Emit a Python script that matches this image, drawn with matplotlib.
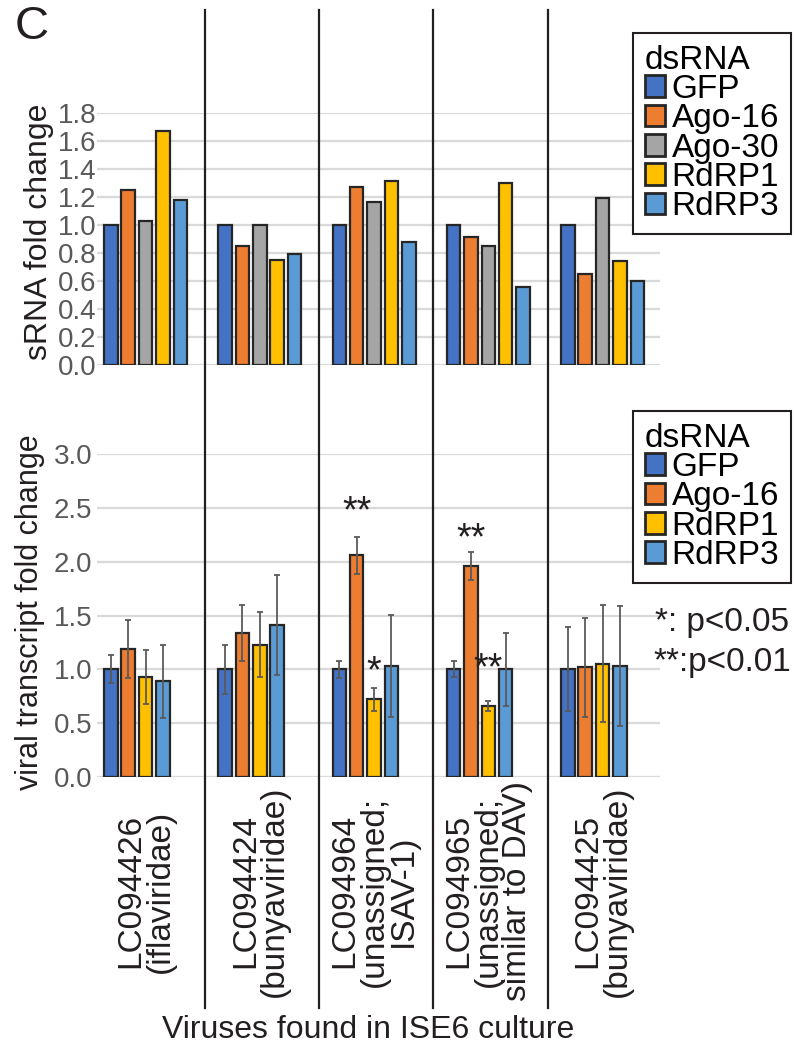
import numpy as np
import matplotlib.pyplot as plt
import matplotlib.transforms as mtransforms

plt.rcParams['font.family'] = ['Liberation Sans', 'DejaVu Sans']

# viruses found in the ISE6 culture
viruses = ['LC094426\n(iflaviridae)',
           'LC094424\n(bunyaviridae)',
           'LC094964\n(unassigned;\nISAV-1)',
           'LC094965\n(unassigned;\nsimilar to DAV)',
           'LC094425\n(bunyaviridae)']

# sRNA fold change (upper panel)
srna_series = ['GFP', 'Ago-16', 'Ago-30', 'RdRP1', 'RdRP3']
srna_gfp = [1.00, 1.00, 1.00, 1.00, 1.00]
srna_ago16 = [1.25, 0.85, 1.27, 0.91, 0.65]
srna_ago30 = [1.03, 1.00, 1.16, 0.85, 1.19]
srna_rdrp1 = [1.67, 0.75, 1.31, 1.30, 0.74]
srna_rdrp3 = [1.18, 0.79, 0.88, 0.56, 0.60]

# viral transcript fold change (lower panel), mean and error
viral_series = ['GFP', 'Ago-16', 'RdRP1', 'RdRP3']
viral_gfp = [1.00, 1.00, 1.00, 1.00, 1.00]
viral_gfp_err = [0.13, 0.23, 0.08, 0.075, 0.39]
viral_ago16 = [1.19, 1.34, 2.06, 1.96, 1.02]
viral_ago16_err = [0.27, 0.26, 0.17, 0.13, 0.46]
viral_rdrp1 = [0.93, 1.23, 0.72, 0.66, 1.05]
viral_rdrp1_err = [0.25, 0.30, 0.11, 0.045, 0.545]
viral_rdrp3 = [0.89, 1.41, 1.03, 1.00, 1.03]
viral_rdrp3_err = [0.34, 0.465, 0.475, 0.34, 0.56]

# significance marks: (virus index, series, mark, height)
sig_marks = [(2, 'Ago-16', '**', 2.46),
             (2, 'RdRP1', '*', 0.97),
             (3, 'Ago-16', '**', 2.21),
             (3, 'RdRP1', '**', 1.00)]

colors = {'GFP': '#4472C4', 'Ago-16': '#ED7D31', 'Ago-30': '#A5A5A5',
          'RdRP1': '#FFC000', 'RdRP3': '#5B9BD5'}
edge = '#262626'
tick_col = '#595959'
grid_col = '#d9d9d9'

W, H = 794, 1051
fig = plt.figure(figsize=(W / 100, H / 100), dpi=100)


def px_axes(x0, y0, x1, y1):
    # axes from pixel box (top-left origin)
    return fig.add_axes([x0 / W, 1 - y1 / H, (x1 - x0) / W, (y1 - y0) / H])


ax1 = px_axes(97, 112.7, 660, 365)
ax2 = px_axes(97, 454.3, 660, 776.7)

x = np.arange(len(viruses))
slot = 0.152
bw = 0.118


def style(ax, ymax, step, pad):
    ax.set_xlim(-0.425, 4.503)
    ax.set_ylim(0, ymax)
    ax.set_yticks(np.arange(0, ymax + 1e-9, step))
    ax.set_yticklabels([f'{v:.1f}' for v in np.arange(0, ymax + 1e-9, step)])
    ax.set_xticks([])
    for s in ax.spines.values():
        s.set_visible(False)
    ax.yaxis.grid(True, color=grid_col, lw=1.6)
    ax.set_axisbelow(True)
    ax.tick_params(axis='y', length=0, pad=pad, labelsize=20, labelcolor=tick_col)


style(ax1, 1.8, 0.2, 0.5)
style(ax2, 3.0, 0.5, 3.5)

srna_vals = [srna_gfp, srna_ago16, srna_ago30, srna_rdrp1, srna_rdrp3]
handles1 = []
for i, (name, vals) in enumerate(zip(srna_series, srna_vals)):
    b = ax1.bar(x + (i - 2) * slot, vals, bw, color=colors[name],
                edgecolor=edge, linewidth=1.6, label=name, zorder=3)
    handles1.append(b)

viral_vals = [viral_gfp, viral_ago16, viral_rdrp1, viral_rdrp3]
viral_errs = [viral_gfp_err, viral_ago16_err, viral_rdrp1_err, viral_rdrp3_err]
handles2 = []
for i, (name, vals, errs) in enumerate(zip(viral_series, viral_vals, viral_errs)):
    b = ax2.bar(x + (i - 2) * slot, vals, bw, color=colors[name],
                edgecolor=edge, linewidth=1.6, label=name, zorder=3,
                yerr=errs, error_kw=dict(ecolor='#5a5a5a', elinewidth=1.3,
                                         capsize=2.5, capthick=1.3, zorder=4))
    handles2.append(b)

for gi, name, mark, yv in sig_marks:
    xi = x[gi] + (viral_series.index(name) - 2) * slot
    ax2.text(xi, yv, mark, ha='center', va='center', fontsize=27, color='#231f20', zorder=5)

# separators between virus groups, spanning the whole figure
sep_tr = mtransforms.blended_transform_factory(ax1.transData, fig.transFigure)
for xs in x[:-1] + 0.52:
    fig.add_artist(plt.Line2D([xs, xs], [1 - 10 / H, 1 - 1008 / H], transform=sep_tr,
                              color='#231f20', lw=1.6))

# virus names under the lower panel
lab_tr = mtransforms.blended_transform_factory(ax2.transData, fig.transFigure)
for xi, name in zip(x, viruses):
    ax2.text(xi, 1 - 891 / H, name, transform=lab_tr, rotation=90, ha='center', va='center',
             multialignment='center', fontsize=24, linespacing=0.92, color='#231f20')

leg_kw = dict(title='dsRNA', fontsize=24, title_fontsize=24, frameon=True, fancybox=False,
              edgecolor='#231f20', framealpha=1, handlelength=0.6, handleheight=0.62,
              handletextpad=0.2, labelspacing=-0.05, borderpad=0.35, borderaxespad=0,
              alignment='left', bbox_transform=fig.transFigure, loc='upper right')
lg1 = ax1.legend(handles1, srna_series, bbox_to_anchor=(791 / W, 1 - 33 / H), **leg_kw)
lg2 = ax2.legend(handles2, viral_series, bbox_to_anchor=(791 / W, 1 - 411 / H), **leg_kw)
for lg in (lg1, lg2):
    lg.get_frame().set_linewidth(1.5)
    for h in lg.legend_handles:
        h.set_linewidth(2.0)

fig.text(655 / W, 1 - 622 / H, '*: p<0.05', fontsize=24, va='center', ha='left', color='#231f20')
fig.text(653 / W, 1 - 663 / H, '**:p<0.01', fontsize=24, va='center', ha='left', color='#231f20')

fig.text(39 / W, 1 - 232 / H, 'sRNA fold change', rotation=90, fontsize=23,
         ha='center', va='center', color='#231f20')
fig.text(30 / W, 1 - 612 / H, 'viral transcript fold change', rotation=90, fontsize=22,
         ha='center', va='center', color='#231f20')
fig.text(368 / W, 1 - 1030 / H, 'Viruses found in ISE6 culture', fontsize=23,
         ha='center', va='center', color='#231f20')
fig.text(15 / W, 1 - 27 / H, 'C', fontsize=34, ha='left', va='center', color='#231f20')

fig.savefig('out.png', dpi=100)
